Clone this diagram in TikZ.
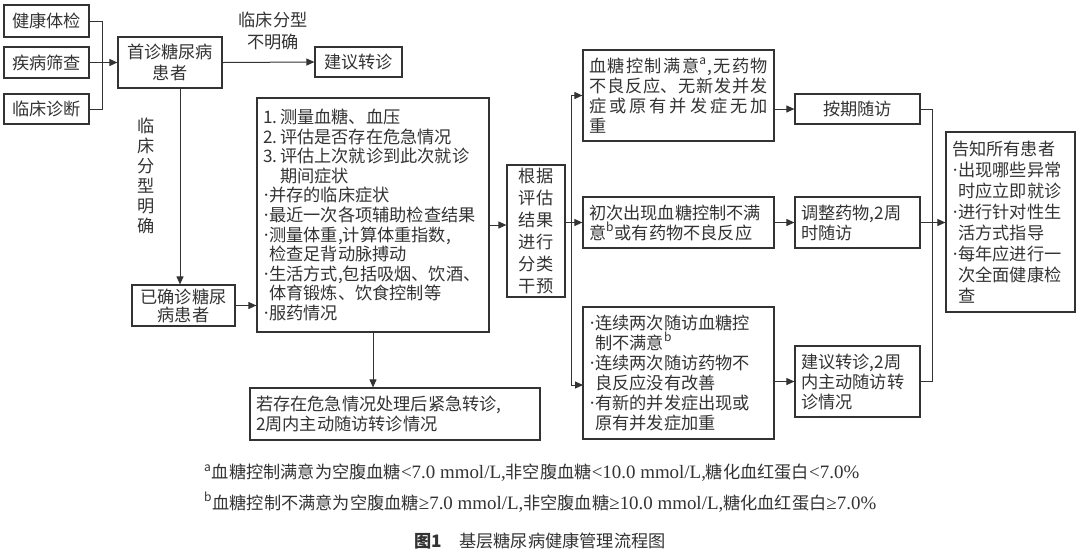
\documentclass[tikz,border=0pt]{standalone}
\usepackage{fontspec}
\setmainfont{Noto Sans CJK SC}
\newfontfamily\lat[Scale=1.1]{Liberation Serif}
\usetikzlibrary{arrows.meta}
\newcommand\zhjust{\XeTeXlinebreaklocale "zh"\XeTeXlinebreakskip=0pt plus 1pt\relax}
\newcommand\dt{{\lat ·}}

\begin{document}
\begin{tikzpicture}[x=0.5pt,y=-0.5pt,font=\fontsize{8.6pt}{10pt}\selectfont,color=black!80]
  \tikzstyle{box}=[draw,line width=0.6pt,inner sep=0pt,align=center]
  \tikzstyle{txtbox}=[draw,line width=0.6pt,inner xsep=3pt,inner ysep=0pt,align=left]
  \tikzstyle{arr}=[line width=0.5pt,-{Triangle[length=4pt,width=3.5pt]}]
  \tikzstyle{ln}=[line width=0.5pt]
  \useasboundingbox (0,0) rectangle (1080,553);

  % first visit
  \node[box,minimum width=42.5pt,minimum height=16pt] (jk) at (46.5,21) {健康体检};
  \node[box,minimum width=42.5pt,minimum height=15.5pt] (jb) at (46.5,62.5) {疾病筛查};
  \node[box,minimum width=42.5pt,minimum height=15pt] (zd) at (46.5,109) {临床诊断};
  \node[box,minimum width=52pt,minimum height=25.5pt,font=\fontsize{8.6pt}{10.5pt}\selectfont] (sz) at (170,62.5) {首诊糖尿病\\患者};
  \node[box,minimum width=43.5pt,minimum height=15pt] (zz) at (358.5,62) {建议转诊};
  \node[align=center,font=\fontsize{8.6pt}{10.8pt}\selectfont] (lbl1) at (273,31) {临床分型\\不明确};
  \node[align=center] (lbl2) at (146,176) {临\\床\\分\\型\\明\\确};
  \node[box,minimum width=51.5pt,minimum height=20.5pt,font=\fontsize{8.6pt}{9pt}\selectfont] (yqz) at (183.5,305.5) {已确诊糖尿\\病患者};

  % assessment
  \node[txtbox,text width=110pt,minimum height=117pt,font=\fontsize{8.6pt}{9.8pt}\selectfont] (pg) at (373,215) {1.\,测量血糖、血压\\
    2.\,评估是否存在危急情况\\
    3.\,评估上次就诊到此次就诊\\
    \phantom{3.\,}期间症状\\
    \dt 并存的临床症状\\
    \dt 最近一次各项辅助检查结果\\
    \dt 测量体重,计算体重指数,\\
    \phantom{\dt}检查足背动脉搏动\\
    \dt 生活方式,包括吸烟、饮酒、\\
    \phantom{\dt}体育锻炼、饮食控制等\\
    \dt 服药情况};
  \node[txtbox,text width=139pt,minimum height=26pt] (jj) at (395,414) {若存在危急情况处理后紧急转诊,\\2周内主动随访转诊情况};
  \node[box,minimum width=29pt,minimum height=66pt,font=\fontsize{8.6pt}{11pt}\selectfont] (gj) at (536,231) {根据\\评估\\结果\\进行\\分类\\干预};

  % classes
  \node[txtbox,text width=89.5pt,minimum height=45.5pt,align=justify] (tb) at (678.5,95.5) {\zhjust 血糖控制满意\textsuperscript{a},无药物\linebreak
    不良反应、无新发并发\linebreak
    症或原有并发症无加\linebreak
    重};
  \node[txtbox,text width=89.5pt,minimum height=25.5pt] (mb) at (678.5,222.5) {初次出现血糖控制不满\\意\textsuperscript{b}或有药物不良反应};
  \node[txtbox,text width=89.5pt,minimum height=66pt] (bb) at (678.5,373) {\dt 连续两次随访血糖控\\
    \phantom{\dt}制不满意\textsuperscript{b}\\
    \dt 连续两次随访药物不\\
    \phantom{\dt}良反应没有改善\\
    \dt 有新的并发症出现或\\
    \phantom{\dt}原有并发症加重};

  % follow up
  \node[box,minimum width=62.5pt,minimum height=15pt] (aq) at (857.5,109) {按期随访};
  \node[txtbox,text width=56.5pt,minimum height=25.5pt] (tz) at (857.5,222.5) {调整药物,2周\\时随访};
  \node[txtbox,text width=56.5pt,minimum height=35.5pt] (jy) at (857.5,381.5) {建议转诊,2周\\内主动随访转\\诊情况};
  \node[txtbox,text width=58.5pt,minimum height=90pt,font=\fontsize{8.6pt}{10.5pt}\selectfont] (gz) at (1010.5,222) {告知所有患者\\
    \dt 出现哪些异常\\
    \phantom{\dt}时应立即就诊\\
    \dt 进行针对性生\\
    \phantom{\dt}活方式指导\\
    \dt 每年应进行一\\
    \phantom{\dt}次全面健康检\\
    \phantom{\dt}查};

  % junctions
  \coordinate (jin) at (102,62.5);
  \coordinate (tr) at (571,0);
  \coordinate (bin) at (583,385);
  \coordinate (rt) at (932,0);

  % edges
  \draw[ln] (jk.east) -| (jin);
  \draw[ln] (zd.east) -| (jin);
  \draw[ln] (jb.east) -- (jin);
  \draw[arr] (jin) -- (sz.west);
  \draw[arr] (sz.east) -- (zz.west);
  \draw[arr] ([xshift=5pt]sz.south) -- ([xshift=5pt]sz.south |- yqz.north);
  \draw[arr] (yqz.east) -- (yqz.east -| pg.west);
  \draw[arr] (pg.south) -- (pg.south |- jj.north);
  \draw[arr] ([yshift=-5pt]pg.east) -- ([yshift=-5pt]pg.east -| gj.west);
  \draw[arr] (mb.west -| gj.east) -- (mb.west);
  \draw[arr] (tb.west -| tr) -- (tb.west);
  \draw[arr] (tb.west -| tr) |- (bin);
  \draw[arr] (aq.west -| tb.east) -- (aq.west);
  \draw[arr] (mb.east) -- (tz.west);
  \draw[arr] (jy.west -| bb.east) -- (jy.west);
  \draw[ln] (aq.east) -| (rt |- jy.east) -- (jy.east);
  \draw[arr] (tz.east) -- (tz.east -| gz.west);

  % notes
  \node[anchor=west] (fa) at (197,473) {\textsuperscript{a}血糖控制满意为空腹血糖{\lat <7.0 mmol/L,}非空腹血糖{\lat <10.0 mmol/L,}糖化血红蛋白{\lat <7.0\%}};
  \node[anchor=west] (fb) at (197,502) {\textsuperscript{b}血糖控制不满意为空腹血糖{\lat ≥7.0 mmol/L,}非空腹血糖{\lat ≥10.0 mmol/L,}糖化血红蛋白{\lat ≥7.0\%}};
  \node (cap) at (540,541) {\textbf{图1}\quad 基层糖尿病健康管理流程图};
\end{tikzpicture}
\end{document}
